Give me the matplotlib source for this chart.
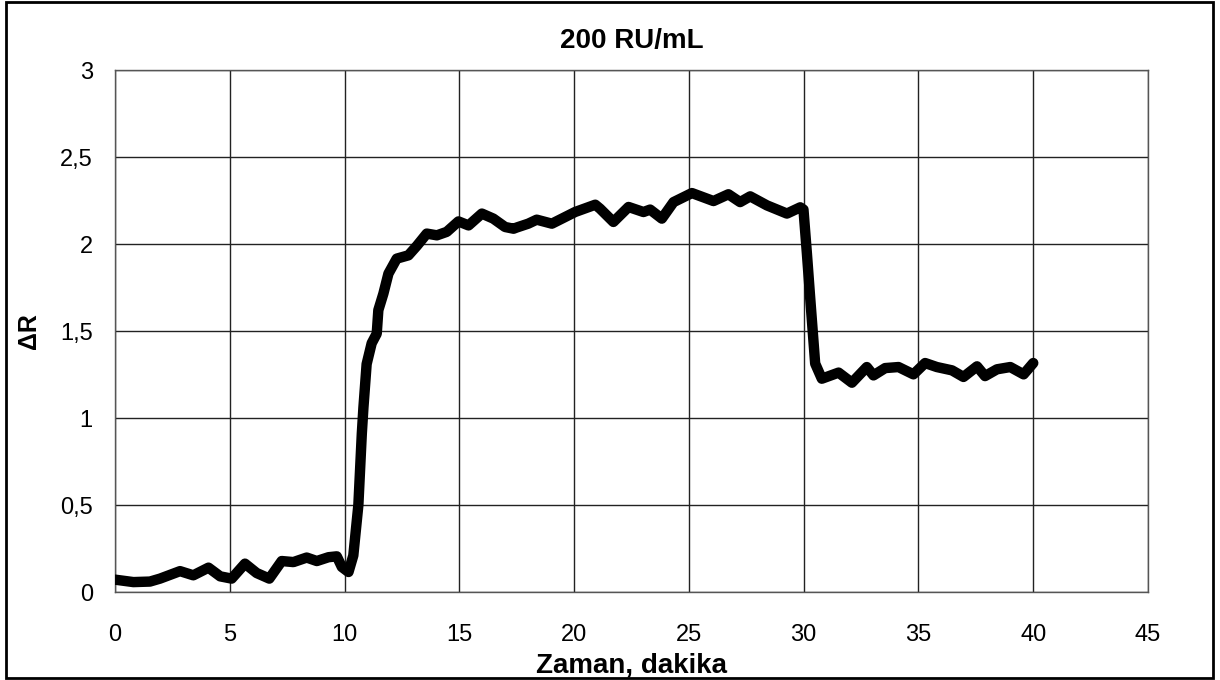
import matplotlib
matplotlib.use("Agg")
import matplotlib.pyplot as plt
from matplotlib.patches import Rectangle
import numpy as np

# time (min) and delta R
zaman = [0.0, 0.8, 1.52, 1.96, 2.83, 3.41, 4.07, 4.58, 5.08, 5.66, 6.17, 6.72,
         7.26, 7.77, 8.35, 8.79, 9.3, 9.66, 9.88, 10.17, 10.38, 10.6, 10.75,
         10.82, 10.96, 11.18, 11.4, 11.47, 11.69, 11.91, 12.27, 12.78, 13.15,
         13.58, 14.02, 14.45, 14.96, 15.4, 15.98, 16.48, 16.99, 17.36, 17.5,
         18.0, 18.37, 19.03, 20.04, 20.92, 21.13, 21.71, 22.37, 23.02, 23.31,
         23.82, 24.33, 25.13, 26.07, 26.72, 27.23, 27.67, 28.4, 29.27, 29.85,
         29.99, 30.14, 30.28, 30.5, 30.79, 31.52, 32.1, 32.75, 33.04, 33.55,
         34.13, 34.78, 35.29, 35.8, 36.46, 36.96, 37.55, 37.9, 38.42, 39.0,
         39.58, 40.0]
delta_r = [0.071, 0.057, 0.06, 0.077, 0.12, 0.096, 0.14, 0.09, 0.077, 0.163,
           0.109, 0.077, 0.178, 0.172, 0.198, 0.178, 0.2, 0.205, 0.144, 0.115,
           0.21, 0.5, 0.91, 1.06, 1.31, 1.43, 1.485, 1.62, 1.715, 1.83, 1.916,
           1.935, 1.99, 2.06, 2.05, 2.07, 2.13, 2.107, 2.175, 2.146, 2.098,
           2.088, 2.095, 2.117, 2.14, 2.117, 2.184, 2.226, 2.203, 2.127, 2.213,
           2.184, 2.198, 2.146, 2.241, 2.293, 2.247, 2.286, 2.241, 2.274,
           2.222, 2.175, 2.211, 2.198, 1.945, 1.695, 1.313, 1.226, 1.261,
           1.203, 1.293, 1.245, 1.287, 1.293, 1.251, 1.316, 1.293, 1.274,
           1.236, 1.297, 1.241, 1.28, 1.293, 1.251, 1.316]

xticks = [0, 5, 10, 15, 20, 25, 30, 35, 40, 45]
yticks = [0, 0.5, 1, 1.5, 2, 2.5, 3]
ytick_labels = ["0", "0,5", "1", "1,5", "2", "2,5", "3"]

plt.rcParams["font.family"] = ["Liberation Sans", "DejaVu Sans"]

fig = plt.figure(figsize=(12.2, 6.8), dpi=100)
ax = fig.add_axes([0.0943, 0.1294, 0.8467, 0.7676])

ax.plot(zaman, delta_r, color="black", lw=7.5, solid_joinstyle="round",
        solid_capstyle="round", zorder=3)

ax.set_xlim(0, 45)
ax.set_ylim(0, 3)
ax.set_xticks(xticks)
ax.set_yticks(yticks)
ax.set_yticklabels(ytick_labels)
ax.tick_params(length=0, labelsize=17)
ax.tick_params(axis="x", pad=23)
ax.tick_params(axis="y", pad=16)
ax.grid(True, color="#222222", lw=1)
for s in ax.spines.values():
    s.set_color("#555555")
    s.set_linewidth(1)

ax.set_title("200 RU/mL", fontsize=20, fontweight="bold", pad=16)
ax.set_xlabel("Zaman, dakika", fontsize=20, fontweight="bold", labelpad=5)
ax.set_ylabel("ΔR", fontsize=18, fontweight="bold", labelpad=14)

# outer frame around the whole chart
fig.patches.append(Rectangle((6 / 1220, 2 / 680), 1207 / 1220, 676 / 680,
                             transform=fig.transFigure, fill=False,
                             edgecolor="black", lw=2))

fig.savefig("out.png", dpi=100)
